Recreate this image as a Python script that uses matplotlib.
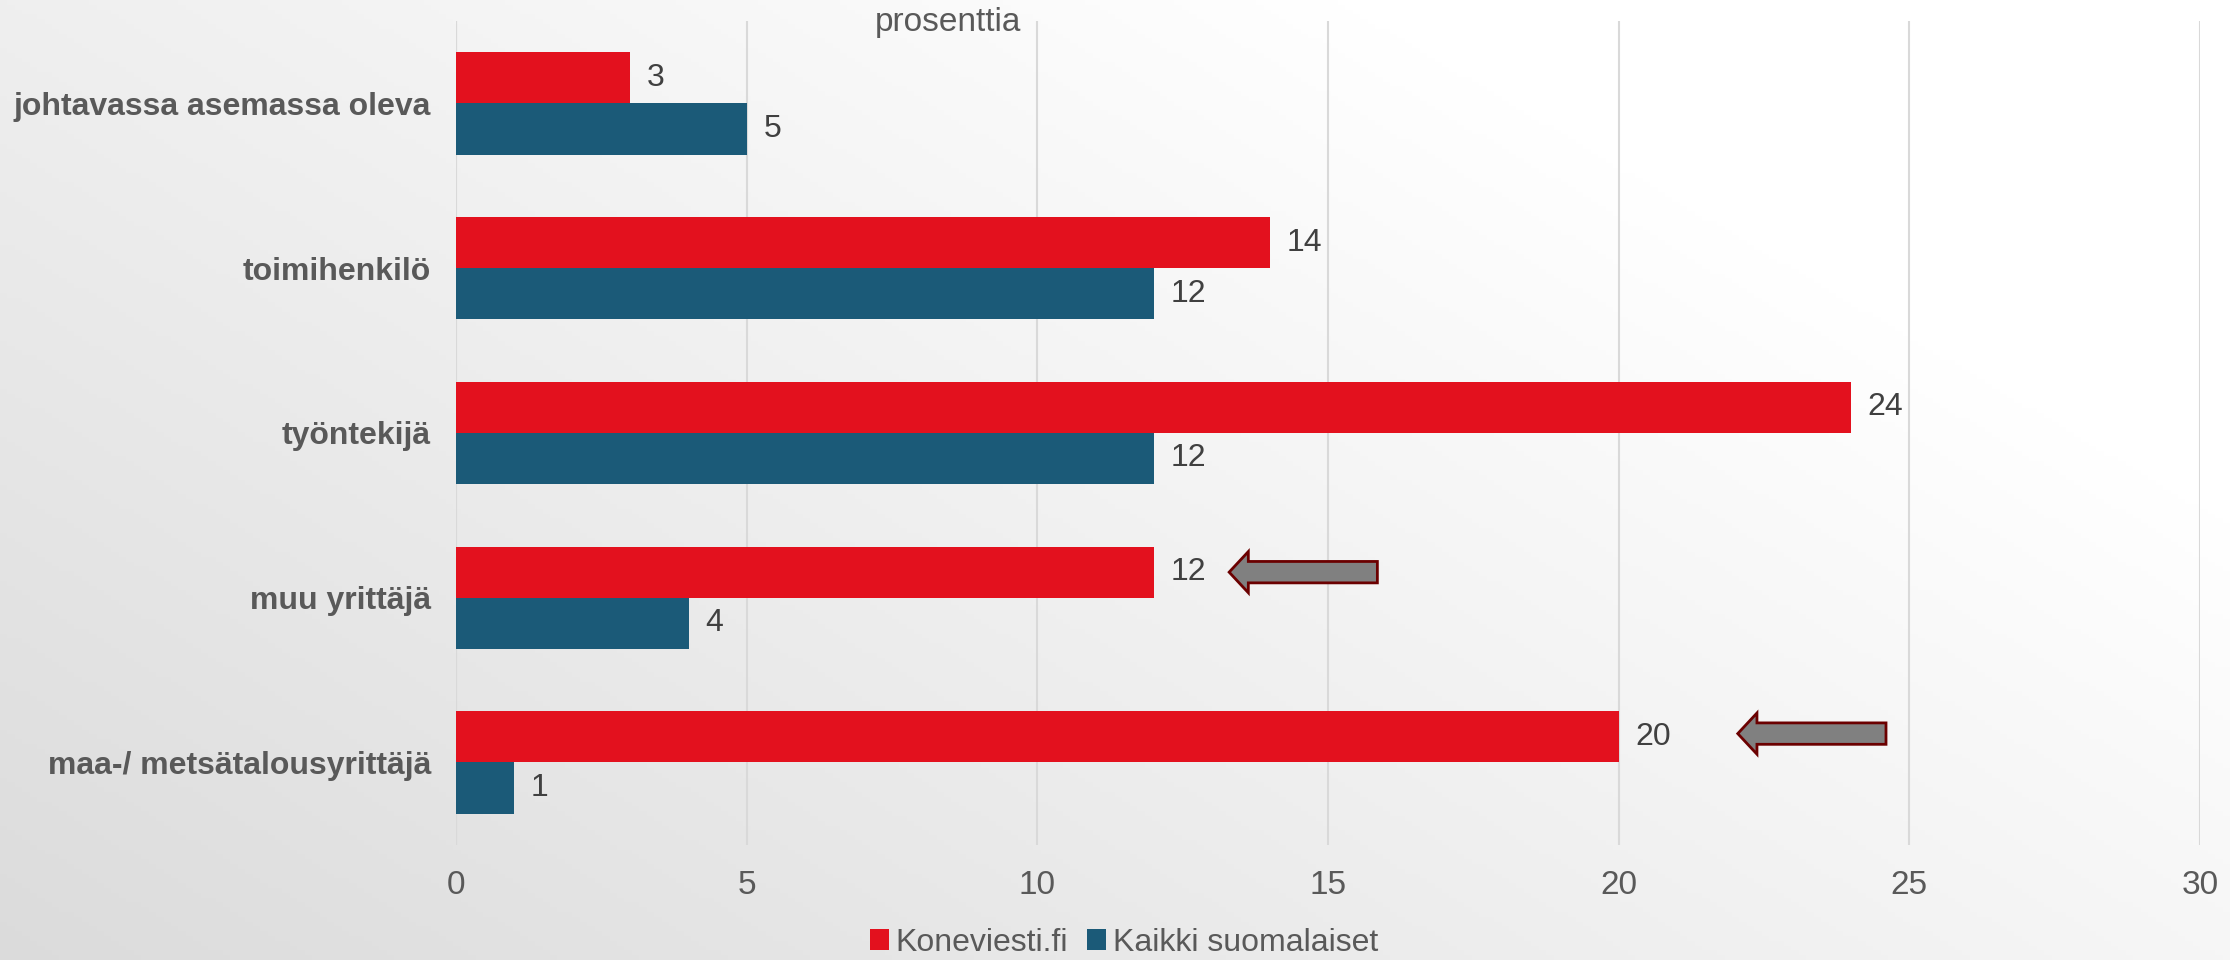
import matplotlib.pyplot as plt
import numpy as np
from matplotlib.patches import FancyArrow

plt.rcParams['font.family'] = ['Liberation Sans', 'DejaVu Sans']

categories = ["johtavassa asemassa oleva", "toimihenkilö", "työntekijä",
              "muu yrittäjä", "maa-/ metsätalousyrittäjä"]
koneviesti = [3, 14, 24, 12, 20]
kaikki = [5, 12, 12, 4, 1]
series_names = ["Koneviesti.fi", "Kaikki suomalaiset"]
xticks = [0, 5, 10, 15, 20, 25, 30]
# highlighted rows: (category index, arrow tip, arrow tail)
arrows = [(3, 13.3, 15.85), (4, 22.05, 24.6)]

red = "#E3111E"
blue = "#1B5A78"
txt = "#595959"

fig = plt.figure(figsize=(22.3, 9.6), dpi=100)

# gradient background
bg = fig.add_axes([0, 0, 1, 1], zorder=-10)
gx, gy = np.meshgrid(np.linspace(0, 1, 300), np.linspace(0, 1, 200))
grad = np.clip((gx * 0.75 + gy * 0.55) / 1.0, 0, 1)
c0 = np.array([0.86, 0.86, 0.86])
c1 = np.array([1.0, 1.0, 1.0])
img = c0[None, None, :] + (c1 - c0)[None, None, :] * grad[:, :, None]
bg.imshow(img, origin="lower", aspect="auto", extent=[0, 1, 0, 1])
bg.axis("off")

ax = fig.add_axes([0.2045, 0.12, 0.782, 0.858])
ax.patch.set_alpha(0)

y = np.arange(len(categories))
h = 0.31
ax.barh(y - h / 2, koneviesti, height=h, color=red, label=series_names[0], zorder=3)
ax.barh(y + h / 2, kaikki, height=h, color=blue, label=series_names[1], zorder=3)

for i in range(len(categories)):
    ax.annotate(str(koneviesti[i]), (koneviesti[i], y[i] - h / 2), xytext=(12, 0),
                textcoords="offset points", va="center", ha="left", fontsize=23, color="#404040")
    ax.annotate(str(kaikki[i]), (kaikki[i], y[i] + h / 2), xytext=(12, 0),
                textcoords="offset points", va="center", ha="left", fontsize=23, color="#404040")

for idx, tip, tail in arrows:
    ya = y[idx] - h / 2 - (0.02 if idx == 4 else 0)
    ax.add_patch(FancyArrow(tail, ya, tip - tail, 0, width=0.13, head_width=0.25,
                            head_length=0.33, length_includes_head=True,
                            facecolor="#808080", edgecolor="#6B0000", linewidth=2, zorder=4))

ax.set_xlim(0, 30)
ax.set_ylim(len(categories) - 0.5, -0.5)
ax.set_xticks(xticks)
ax.set_xticklabels([str(t) for t in xticks], fontsize=24, color=txt)
ax.set_yticks(y)
ax.set_yticklabels(categories, fontsize=23, fontweight="bold", color=txt)
ax.tick_params(axis="both", length=0)
ax.tick_params(axis="x", pad=18)
ax.tick_params(axis="y", pad=18)
ax.grid(axis="x", color="#D9D9D9", linewidth=1.5, zorder=0)
for s in ax.spines.values():
    s.set_visible(False)
ax.axvline(0, color="#D9D9D9", linewidth=1.5, zorder=1)

fig.text(0.425, 0.977, "prosenttia", ha="center", va="center", fontsize=24, color=txt)

fig.legend(loc="center", bbox_to_anchor=(0.504, 0.018), ncol=2, frameon=False,
           fontsize=23, handlelength=0.6, handleheight=0.6, handletextpad=0.2,
           columnspacing=0.6, labelcolor=txt)

fig.savefig("out.png", dpi=100)
